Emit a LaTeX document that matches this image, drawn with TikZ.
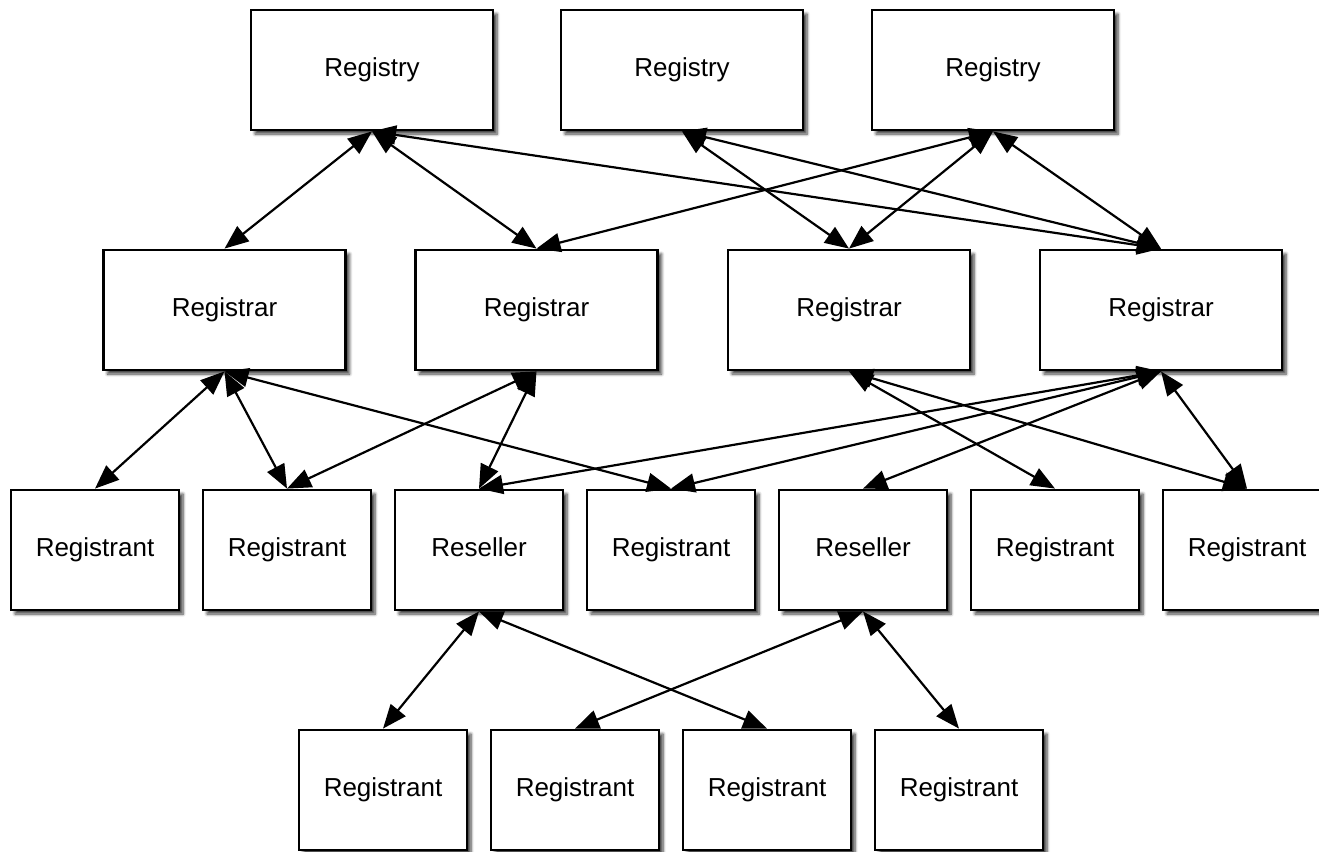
\documentclass[tikz,border=0pt]{standalone}
\usepackage{fontspec}
\setmainfont{Liberation Sans}
\usetikzlibrary{arrows.meta,shadows.blur}

\begin{document}
\begin{tikzpicture}[x=1pt,y=-1pt,
  box/.style={draw=black, line width=2.8pt, fill=white, inner sep=0pt,
    font=\fontsize{26}{30}\selectfont, text height=19.5pt, text depth=6.5pt,
    blur shadow={shadow xshift=4pt, shadow yshift=-4pt, shadow blur radius=3pt,
      shadow blur steps=6, shadow opacity=75}},
  big/.style={box, minimum width=242pt, minimum height=120pt},
  small/.style={box, minimum width=168pt, minimum height=120pt},
  link/.style={line width=2.2pt, {Triangle[length=24pt,width=19pt]}-{Triangle[length=24pt,width=19pt]}}
]
\useasboundingbox (0,0) rectangle (1319,851);

% Registries
\node[big] (ry1) at (372,70) {Registry};
\node[big] (ry2) at (682,70) {Registry};
\node[big] (ry3) at (993,70) {Registry};
% Registrars
\node[big] (rr1) at (224.5,310) {Registrar};
\node[big] (rr2) at (536.5,310) {Registrar};
\node[big] (rr3) at (849,310) {Registrar};
\node[big] (rr4) at (1161,310) {Registrar};
% Third row
\node[small] (a1) at (95,550) {Registrant};
\node[small] (a2) at (287,550) {Registrant};
\node[small] (s1) at (479,550) {Reseller};
\node[small] (a3) at (671,550) {Registrant};
\node[small] (s2) at (863,550) {Reseller};
\node[small] (a4) at (1055,550) {Registrant};
\node[small] (a5) at (1247,550) {Registrant};
% Fourth row
\node[small] (b1) at (383,790) {Registrant};
\node[small] (b2) at (575,790) {Registrant};
\node[small] (b3) at (767,790) {Registrant};
\node[small] (b4) at (959,790) {Registrant};

% Registry - Registrar
\draw[link] (ry1.south) -- (rr1.north);
\draw[link] (ry1.south) -- (rr2.north);
\draw[link] (ry1.south) -- (rr4.north);
\draw[link] (ry2.south) -- (rr3.north);
\draw[link] (ry2.south) -- (rr4.north);
\draw[link] (ry3.south) -- (rr2.north);
\draw[link] (ry3.south) -- (rr3.north);
\draw[link] (ry3.south) -- (rr4.north);
% Registrar - third row
\draw[link] (rr1.south) -- (a1.north);
\draw[link] (rr1.south) -- (a2.north);
\draw[link] (rr1.south) -- (a3.north);
\draw[link] (rr2.south) -- (a2.north);
\draw[link] (rr2.south) -- (s1.north);
\draw[link] (rr3.south) -- (a4.north);
\draw[link] (rr3.south) -- (a5.north);
\draw[link] (rr4.south) -- (s1.north);
\draw[link] (rr4.south) -- (a3.north);
\draw[link] (rr4.south) -- (s2.north);
\draw[link] (rr4.south) -- (a5.north);
% Reseller - fourth row
\draw[link] (s1.south) -- (b1.north);
\draw[link] (s1.south) -- (b3.north);
\draw[link] (s2.south) -- (b2.north);
\draw[link] (s2.south) -- (b4.north);
\end{tikzpicture}
\end{document}
